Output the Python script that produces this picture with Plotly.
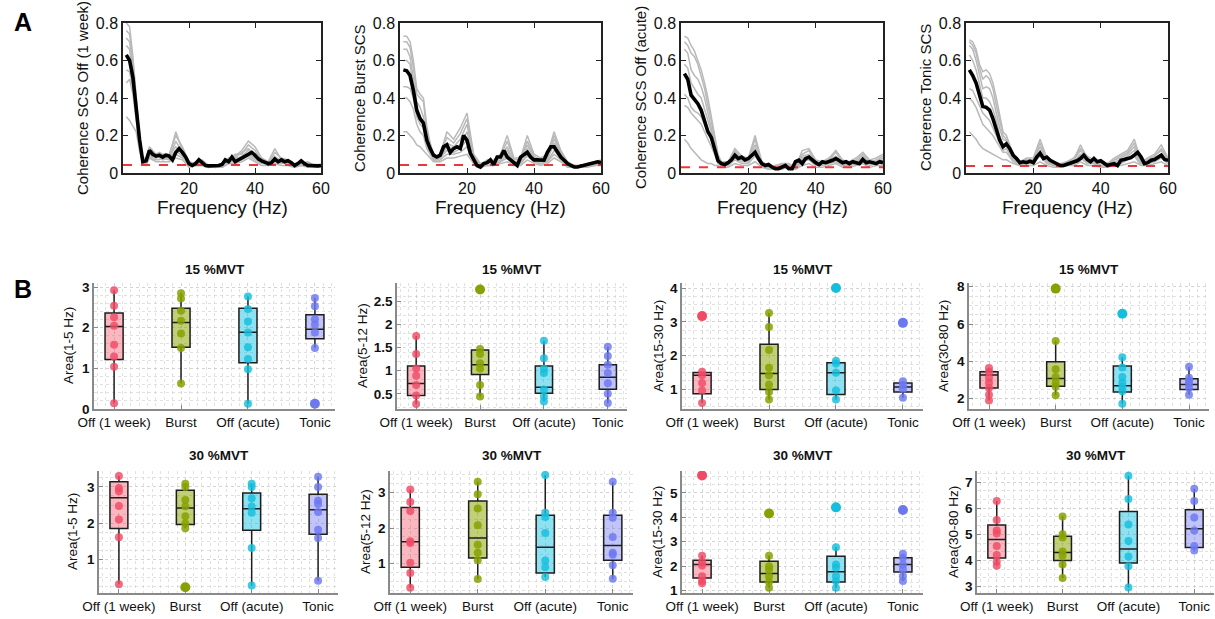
import plotly.graph_objects as go

W, H = 1215, 619
FONT = "Liberation Sans, Arial, Helvetica, sans-serif"

# ======================= Panel A data (coherence spectra) =======================
freq_hz = list(range(1, 61))
gray_freq_hz = [1, 2, 3, 4, 5, 6, 7, 8, 9, 10, 11, 12, 14, 16, 18, 20, 22, 24, 26, 28,
                30, 32, 34, 36, 38, 40, 42, 44, 46, 48, 50, 52, 54, 56, 58, 60]
freq_range = [0, 60]
coh_ylabels = ["Coherence SCS Off (1 week)", "Coherence Burst SCS",
               "Coherence SCS Off (acute)", "Coherence Tonic SCS"]
coh_threshold = [0.042, 0.042, 0.030, 0.037]

coh_mean_off1w = [0.63, 0.60, 0.51, 0.34, 0.18, 0.06, 0.065, 0.12, 0.10, 0.09,
                  0.095, 0.085, 0.095, 0.09, 0.07, 0.11, 0.13, 0.11, 0.085, 0.05,
                  0.04, 0.05, 0.07, 0.055, 0.04, 0.038, 0.038, 0.038, 0.04, 0.045,
                  0.07, 0.06, 0.085, 0.06, 0.07, 0.08, 0.095, 0.105, 0.11, 0.095,
                  0.075, 0.065, 0.055, 0.05, 0.055, 0.075, 0.06, 0.07, 0.06, 0.065,
                  0.055, 0.04, 0.05, 0.065, 0.05, 0.04, 0.04, 0.038, 0.038, 0.04]
coh_mean_burst = [0.55, 0.545, 0.52, 0.44, 0.335, 0.29, 0.265, 0.175, 0.13, 0.095,
                  0.085, 0.095, 0.14, 0.15, 0.11, 0.13, 0.14, 0.13, 0.20, 0.175,
                  0.105, 0.07, 0.04, 0.032, 0.05, 0.055, 0.07, 0.045, 0.085, 0.085,
                  0.12, 0.085, 0.07, 0.05, 0.04, 0.085, 0.095, 0.11, 0.085, 0.07,
                  0.07, 0.07, 0.068, 0.11, 0.14, 0.14, 0.11, 0.085, 0.068, 0.05,
                  0.04, 0.032, 0.032, 0.036, 0.04, 0.045, 0.05, 0.055, 0.06, 0.055]
coh_mean_offacute = [0.53, 0.50, 0.415, 0.39, 0.37, 0.335, 0.28, 0.22, 0.19, 0.12,
                     0.065, 0.05, 0.045, 0.055, 0.07, 0.095, 0.077, 0.085, 0.07, 0.077,
                     0.095, 0.11, 0.077, 0.05, 0.04, 0.045, 0.032, 0.023, 0.023, 0.032,
                     0.04, 0.023, 0.023, 0.06, 0.068, 0.05, 0.077, 0.085, 0.068, 0.055,
                     0.045, 0.06, 0.055, 0.06, 0.068, 0.077, 0.068, 0.055, 0.06, 0.05,
                     0.06, 0.055, 0.05, 0.072, 0.055, 0.06, 0.055, 0.05, 0.06, 0.055]
coh_mean_tonic = [0.55, 0.52, 0.48, 0.41, 0.355, 0.35, 0.335, 0.29, 0.23, 0.175,
                  0.14, 0.155, 0.13, 0.095, 0.077, 0.055, 0.06, 0.055, 0.063, 0.055,
                  0.085, 0.105, 0.077, 0.085, 0.068, 0.06, 0.05, 0.04, 0.04, 0.045,
                  0.05, 0.06, 0.065, 0.077, 0.095, 0.072, 0.06, 0.077, 0.06, 0.065,
                  0.05, 0.04, 0.045, 0.05, 0.04, 0.068, 0.072, 0.077, 0.082, 0.095,
                  0.11, 0.085, 0.05, 0.055, 0.068, 0.072, 0.085, 0.095, 0.072, 0.068]

coh_gray_off1w = [
    [0.80, 0.78, 0.62, 0.40, 0.20, 0.08, 0.08, 0.14, 0.12, 0.10, 0.11, 0.10, 0.10, 0.20, 0.14, 0.06, 0.05, 0.06, 0.04, 0.04, 0.05, 0.08, 0.09, 0.12, 0.17, 0.14, 0.08, 0.06, 0.13, 0.07, 0.06, 0.05, 0.06, 0.05, 0.04, 0.04],
    [0.76, 0.74, 0.60, 0.38, 0.18, 0.07, 0.06, 0.12, 0.10, 0.09, 0.10, 0.09, 0.09, 0.22, 0.12, 0.05, 0.05, 0.06, 0.04, 0.04, 0.04, 0.07, 0.10, 0.10, 0.15, 0.12, 0.07, 0.05, 0.11, 0.08, 0.07, 0.04, 0.05, 0.06, 0.04, 0.04],
    [0.72, 0.70, 0.55, 0.35, 0.17, 0.06, 0.07, 0.13, 0.11, 0.08, 0.09, 0.09, 0.08, 0.17, 0.11, 0.04, 0.06, 0.05, 0.03, 0.04, 0.05, 0.06, 0.08, 0.11, 0.13, 0.10, 0.06, 0.06, 0.09, 0.06, 0.07, 0.05, 0.04, 0.05, 0.04, 0.03],
    [0.68, 0.66, 0.52, 0.33, 0.16, 0.07, 0.06, 0.11, 0.09, 0.10, 0.08, 0.08, 0.09, 0.14, 0.10, 0.05, 0.04, 0.07, 0.04, 0.03, 0.04, 0.07, 0.07, 0.09, 0.12, 0.09, 0.07, 0.05, 0.08, 0.07, 0.05, 0.04, 0.06, 0.04, 0.04, 0.04],
    [0.55, 0.54, 0.45, 0.30, 0.15, 0.06, 0.05, 0.10, 0.08, 0.08, 0.09, 0.07, 0.08, 0.12, 0.09, 0.04, 0.05, 0.05, 0.03, 0.04, 0.03, 0.05, 0.08, 0.08, 0.10, 0.08, 0.06, 0.04, 0.07, 0.05, 0.06, 0.04, 0.05, 0.04, 0.03, 0.04],
    [0.48, 0.50, 0.42, 0.28, 0.14, 0.05, 0.05, 0.09, 0.07, 0.07, 0.07, 0.08, 0.07, 0.10, 0.08, 0.05, 0.04, 0.04, 0.04, 0.03, 0.04, 0.06, 0.06, 0.07, 0.09, 0.07, 0.05, 0.05, 0.06, 0.06, 0.05, 0.04, 0.04, 0.05, 0.04, 0.03],
    [0.30, 0.28, 0.25, 0.22, 0.12, 0.05, 0.04, 0.08, 0.07, 0.06, 0.06, 0.06, 0.06, 0.08, 0.07, 0.03, 0.04, 0.04, 0.03, 0.03, 0.03, 0.05, 0.05, 0.06, 0.08, 0.06, 0.04, 0.04, 0.05, 0.04, 0.04, 0.03, 0.04, 0.03, 0.03, 0.03],
]
coh_gray_burst = [
    [0.73, 0.73, 0.70, 0.60, 0.45, 0.42, 0.40, 0.25, 0.16, 0.10, 0.09, 0.10, 0.22, 0.18, 0.24, 0.32, 0.10, 0.05, 0.06, 0.07, 0.10, 0.20, 0.08, 0.08, 0.20, 0.10, 0.08, 0.10, 0.22, 0.12, 0.06, 0.04, 0.04, 0.05, 0.06, 0.07],
    [0.70, 0.70, 0.67, 0.56, 0.42, 0.40, 0.38, 0.22, 0.15, 0.09, 0.08, 0.10, 0.19, 0.16, 0.21, 0.29, 0.09, 0.04, 0.07, 0.06, 0.09, 0.17, 0.07, 0.07, 0.17, 0.09, 0.07, 0.09, 0.20, 0.11, 0.05, 0.04, 0.04, 0.05, 0.05, 0.06],
    [0.66, 0.66, 0.62, 0.50, 0.38, 0.35, 0.30, 0.20, 0.13, 0.08, 0.08, 0.09, 0.16, 0.14, 0.18, 0.26, 0.08, 0.05, 0.06, 0.06, 0.08, 0.14, 0.06, 0.06, 0.15, 0.08, 0.06, 0.08, 0.18, 0.10, 0.05, 0.03, 0.04, 0.04, 0.05, 0.06],
    [0.60, 0.60, 0.58, 0.46, 0.34, 0.30, 0.27, 0.18, 0.12, 0.08, 0.07, 0.08, 0.14, 0.13, 0.15, 0.22, 0.07, 0.04, 0.05, 0.05, 0.07, 0.12, 0.05, 0.06, 0.13, 0.07, 0.06, 0.07, 0.16, 0.09, 0.04, 0.03, 0.04, 0.04, 0.05, 0.06],
    [0.46, 0.46, 0.45, 0.40, 0.30, 0.26, 0.24, 0.15, 0.11, 0.07, 0.07, 0.08, 0.12, 0.11, 0.13, 0.18, 0.07, 0.04, 0.05, 0.05, 0.06, 0.10, 0.05, 0.05, 0.10, 0.06, 0.05, 0.06, 0.12, 0.08, 0.04, 0.03, 0.03, 0.04, 0.04, 0.05],
    [0.40, 0.40, 0.38, 0.34, 0.26, 0.22, 0.20, 0.13, 0.10, 0.07, 0.06, 0.07, 0.10, 0.10, 0.11, 0.14, 0.06, 0.04, 0.04, 0.04, 0.06, 0.08, 0.04, 0.05, 0.09, 0.06, 0.05, 0.06, 0.10, 0.07, 0.04, 0.03, 0.03, 0.04, 0.04, 0.05],
    [0.22, 0.22, 0.20, 0.18, 0.15, 0.14, 0.12, 0.10, 0.08, 0.06, 0.06, 0.06, 0.08, 0.08, 0.09, 0.10, 0.05, 0.03, 0.04, 0.04, 0.05, 0.06, 0.04, 0.04, 0.07, 0.05, 0.04, 0.05, 0.08, 0.06, 0.03, 0.03, 0.03, 0.03, 0.04, 0.04],
]
coh_gray_offacute = [
    [0.73, 0.72, 0.68, 0.65, 0.60, 0.55, 0.48, 0.40, 0.30, 0.20, 0.10, 0.06, 0.06, 0.13, 0.09, 0.08, 0.20, 0.06, 0.04, 0.04, 0.05, 0.05, 0.03, 0.12, 0.13, 0.07, 0.06, 0.08, 0.12, 0.07, 0.06, 0.08, 0.11, 0.07, 0.08, 0.10],
    [0.70, 0.68, 0.64, 0.62, 0.58, 0.52, 0.45, 0.36, 0.28, 0.18, 0.09, 0.05, 0.05, 0.12, 0.08, 0.07, 0.18, 0.05, 0.04, 0.03, 0.05, 0.04, 0.03, 0.10, 0.12, 0.06, 0.05, 0.07, 0.11, 0.06, 0.06, 0.07, 0.10, 0.06, 0.07, 0.09],
    [0.66, 0.64, 0.55, 0.52, 0.50, 0.46, 0.40, 0.32, 0.25, 0.16, 0.08, 0.05, 0.05, 0.11, 0.08, 0.07, 0.15, 0.05, 0.03, 0.03, 0.04, 0.04, 0.03, 0.09, 0.10, 0.06, 0.05, 0.07, 0.09, 0.06, 0.05, 0.06, 0.09, 0.06, 0.06, 0.08],
    [0.58, 0.56, 0.48, 0.45, 0.42, 0.40, 0.34, 0.28, 0.22, 0.14, 0.07, 0.05, 0.04, 0.10, 0.07, 0.06, 0.13, 0.04, 0.03, 0.03, 0.04, 0.04, 0.02, 0.08, 0.09, 0.05, 0.05, 0.06, 0.08, 0.05, 0.05, 0.06, 0.08, 0.05, 0.06, 0.07],
    [0.42, 0.40, 0.35, 0.33, 0.32, 0.30, 0.26, 0.22, 0.17, 0.12, 0.06, 0.04, 0.04, 0.08, 0.06, 0.06, 0.11, 0.04, 0.03, 0.02, 0.03, 0.03, 0.02, 0.07, 0.08, 0.05, 0.04, 0.05, 0.07, 0.05, 0.04, 0.05, 0.07, 0.05, 0.05, 0.06],
    [0.36, 0.35, 0.32, 0.30, 0.28, 0.26, 0.22, 0.18, 0.14, 0.10, 0.05, 0.04, 0.04, 0.07, 0.05, 0.05, 0.09, 0.04, 0.02, 0.02, 0.03, 0.03, 0.02, 0.06, 0.07, 0.04, 0.04, 0.05, 0.06, 0.04, 0.04, 0.05, 0.06, 0.04, 0.05, 0.05],
    [0.18, 0.16, 0.13, 0.11, 0.09, 0.07, 0.06, 0.05, 0.05, 0.04, 0.04, 0.03, 0.03, 0.05, 0.04, 0.04, 0.06, 0.03, 0.02, 0.02, 0.02, 0.03, 0.02, 0.04, 0.05, 0.03, 0.03, 0.04, 0.05, 0.03, 0.03, 0.04, 0.05, 0.03, 0.04, 0.04],
]
coh_gray_tonic = [
    [0.71, 0.70, 0.66, 0.58, 0.54, 0.55, 0.53, 0.48, 0.40, 0.30, 0.22, 0.20, 0.10, 0.06, 0.08, 0.08, 0.18, 0.08, 0.05, 0.05, 0.06, 0.08, 0.13, 0.09, 0.07, 0.05, 0.05, 0.08, 0.10, 0.12, 0.18, 0.06, 0.08, 0.10, 0.15, 0.08],
    [0.70, 0.68, 0.64, 0.56, 0.50, 0.52, 0.50, 0.45, 0.36, 0.27, 0.20, 0.18, 0.09, 0.06, 0.07, 0.07, 0.16, 0.07, 0.05, 0.04, 0.06, 0.07, 0.15, 0.08, 0.06, 0.05, 0.05, 0.07, 0.09, 0.11, 0.16, 0.06, 0.07, 0.09, 0.13, 0.08],
    [0.68, 0.66, 0.60, 0.52, 0.45, 0.46, 0.45, 0.40, 0.32, 0.24, 0.18, 0.17, 0.08, 0.05, 0.07, 0.07, 0.14, 0.07, 0.04, 0.04, 0.05, 0.07, 0.12, 0.07, 0.06, 0.04, 0.04, 0.07, 0.08, 0.10, 0.14, 0.05, 0.07, 0.09, 0.12, 0.07],
    [0.63, 0.60, 0.55, 0.48, 0.40, 0.40, 0.38, 0.34, 0.28, 0.20, 0.15, 0.16, 0.08, 0.05, 0.06, 0.06, 0.12, 0.06, 0.04, 0.04, 0.05, 0.06, 0.10, 0.07, 0.05, 0.04, 0.04, 0.06, 0.07, 0.09, 0.12, 0.05, 0.06, 0.08, 0.10, 0.07],
    [0.45, 0.44, 0.40, 0.36, 0.32, 0.30, 0.28, 0.24, 0.20, 0.16, 0.12, 0.13, 0.07, 0.05, 0.06, 0.06, 0.10, 0.06, 0.04, 0.04, 0.05, 0.05, 0.09, 0.06, 0.05, 0.04, 0.04, 0.05, 0.06, 0.08, 0.10, 0.05, 0.05, 0.07, 0.09, 0.06],
    [0.40, 0.38, 0.35, 0.30, 0.26, 0.24, 0.22, 0.20, 0.17, 0.14, 0.11, 0.11, 0.06, 0.04, 0.05, 0.05, 0.09, 0.05, 0.04, 0.03, 0.04, 0.05, 0.08, 0.05, 0.05, 0.04, 0.03, 0.05, 0.05, 0.07, 0.09, 0.04, 0.05, 0.06, 0.08, 0.05],
    [0.22, 0.20, 0.18, 0.15, 0.13, 0.12, 0.11, 0.10, 0.09, 0.08, 0.07, 0.07, 0.05, 0.04, 0.04, 0.04, 0.06, 0.04, 0.03, 0.03, 0.04, 0.04, 0.06, 0.04, 0.04, 0.03, 0.03, 0.04, 0.04, 0.05, 0.06, 0.04, 0.04, 0.05, 0.06, 0.04],
]

# ======================= Panel B data (areas) =======================
groups = ["Off (1 week)", "Burst", "Off (acute)", "Tonic"]
band_labels = ["Area(1-5 Hz)", "Area(5-12 Hz)", "Area(15-30 Hz)", "Area(30-80 Hz)"]
mvt_titles = ["15 %MVT", "30 %MVT"]

# points (non-outliers) per group
pts_15_b1 = [[2.92, 2.54, 2.26, 2.05, 1.58, 1.29, 1.04, 0.14], [2.85, 2.72, 2.42, 2.17, 1.86, 1.50, 0.63],
             [2.77, 2.46, 2.15, 1.88, 1.52, 1.23, 0.98, 0.13], [2.73, 2.53, 2.21, 2.08, 1.88, 1.50]]
pts_15_b2 = [[1.75, 1.36, 1.05, 0.89, 0.69, 0.46, 0.28], [1.47, 1.36, 1.16, 1.05, 0.69, 0.44],
             [1.65, 1.27, 1.04, 0.95, 0.59, 0.44, 0.33], [1.52, 1.32, 1.13, 0.95, 0.73, 0.50, 0.30]]
pts_15_b3 = [[1.52, 1.42, 1.19, 0.97, 0.60], [3.26, 2.85, 2.17, 1.64, 1.42, 1.14, 0.92, 0.70],
             [1.85, 1.77, 1.49, 0.97, 0.70], [1.24, 1.12, 1.02, 0.75]]
pts_15_b4 = [[3.64, 3.45, 3.13, 2.85, 2.58, 2.22, 1.91], [5.09, 3.58, 3.16, 2.85, 2.64, 2.18],
             [4.22, 3.67, 3.16, 2.85, 2.64, 2.40, 1.73], [3.71, 3.13, 2.95, 2.80, 2.58, 2.22]]
pts_30_b1 = [[3.30, 2.97, 2.88, 2.47, 2.10, 1.61, 0.31], [3.09, 3.00, 2.64, 2.46, 2.19, 1.99, 1.86],
             [3.09, 3.00, 2.69, 2.46, 2.29, 1.31, 0.28], [3.28, 3.00, 2.62, 2.53, 2.31, 1.82, 1.59, 0.41]]
pts_30_b2 = [[3.08, 2.73, 2.48, 1.63, 1.58, 1.03, 0.74, 0.33], [3.30, 2.95, 2.55, 2.08, 1.53, 1.31, 1.10, 0.57],
             [3.49, 2.43, 2.31, 1.86, 1.09, 0.90, 0.63], [3.30, 2.43, 2.29, 1.75, 1.31, 1.25, 0.96, 0.58]]
pts_30_b3 = [[2.43, 2.16, 2.03, 1.59, 1.39, 1.30], [2.43, 2.00, 1.86, 1.59, 1.35, 1.12],
             [2.78, 2.07, 1.93, 1.59, 1.39, 1.12], [2.51, 2.34, 2.07, 1.86, 1.59, 1.39]]
pts_30_b4 = [[6.28, 5.55, 5.15, 5.03, 4.55, 4.21, 3.96, 3.80], [5.68, 5.00, 4.88, 4.34, 4.18, 3.84, 3.33],
             [7.25, 6.36, 5.38, 4.74, 4.15, 3.78, 2.96], [6.75, 6.28, 5.65, 5.15, 4.55, 4.38]]

# outliers per group
out_15_b1 = [[], [], [], [0.13]]
out_15_b2 = [[], [2.76], [], []]
out_15_b3 = [[3.17], [], [4.00], [2.97]]
out_15_b4 = [[], [7.90], [6.55], []]
out_30_b1 = [[], [0.23], [], []]
out_30_b2 = [[], [], [], []]
out_30_b3 = [[5.72], [4.16], [4.41], [4.30]]
out_30_b4 = [[], [], [], []]

# box statistics per group: [q1, median, q3, lower whisker, upper whisker]
box_15_b1 = [[1.22, 2.03, 2.36, 0.14, 2.92], [1.52, 2.13, 2.48, 0.63, 2.85],
             [1.14, 1.89, 2.48, 0.13, 2.77], [1.73, 1.96, 2.32, 1.50, 2.73]]
box_15_b2 = [[0.46, 0.72, 1.10, 0.28, 1.75], [0.92, 1.13, 1.45, 0.44, 1.47],
             [0.51, 0.64, 1.10, 0.33, 1.65], [0.60, 0.86, 1.13, 0.30, 1.52]]
box_15_b3 = [[0.87, 1.42, 1.50, 0.60, 1.52], [1.00, 1.47, 2.34, 0.70, 3.26],
             [0.85, 1.49, 1.79, 0.70, 1.85], [0.92, 1.07, 1.19, 0.75, 1.24]]
box_15_b4 = [[2.58, 3.27, 3.45, 1.91, 3.64], [2.67, 3.09, 3.98, 2.18, 5.09],
             [2.36, 2.69, 3.75, 1.73, 4.22], [2.49, 2.76, 3.07, 2.22, 3.71]]
box_30_b1 = [[1.85, 2.70, 3.14, 0.31, 3.30], [1.96, 2.42, 2.91, 1.86, 3.09],
             [1.80, 2.40, 2.83, 0.28, 3.09], [1.69, 2.37, 2.80, 0.41, 3.28]]
box_30_b2 = [[0.90, 1.62, 2.58, 0.33, 3.08], [1.16, 1.72, 2.76, 0.57, 3.30],
             [0.74, 1.46, 2.36, 0.63, 3.49], [1.10, 1.51, 2.36, 0.58, 3.30]]
box_30_b3 = [[1.51, 2.07, 2.24, 1.30, 2.43], [1.35, 1.70, 2.20, 1.12, 2.43],
             [1.35, 1.77, 2.41, 1.12, 2.78], [1.76, 2.07, 2.34, 1.39, 2.51]]
box_30_b4 = [[4.09, 4.80, 5.36, 3.80, 6.28], [4.00, 4.30, 4.93, 3.33, 5.68],
             [3.90, 4.44, 5.88, 2.96, 7.25], [4.50, 5.21, 5.94, 4.38, 6.75]]

# ======================= styling / layout config =======================
pt_colors = ["rgba(240,75,100,0.82)", "rgba(135,162,0,0.85)", "rgba(20,190,220,0.82)", "rgba(108,120,240,0.82)"]
out_colors = ["rgb(240,75,100)", "rgb(135,162,0)", "rgb(20,190,220)", "rgb(108,120,240)"]
fill_colors = ["rgba(245,95,115,0.45)", "rgba(140,168,10,0.55)", "rgba(30,195,225,0.50)", "rgba(115,125,240,0.45)"]

A_x = [(123, 321), (400, 601), (681, 883), (966, 1168)]
A_y = (23, 173)
B_x = [[(94, 335), (397, 627), (682, 923), (969, 1209)],
       [(99, 338), (390, 633), (682, 923), (977, 1214)]]
B_y = [(283, 409), (471, 593)]
B_title_y = [270, 455]
B_yranges = [[[0, 3.1], [0.17, 2.9], [0.42, 4.15], [1.45, 8.2]],
             [[0.07, 3.44], [0.18, 3.6], [0.9, 5.9], [2.75, 7.43]]]
B_yticks = [[[0, 1, 2, 3], [0.5, 1, 1.5, 2, 2.5], [1, 2, 3, 4], [2, 4, 6, 8]],
            [[1, 2, 3], [1, 2, 3], [1, 2, 3, 4, 5], [3, 4, 5, 6, 7]]]
B_yminor = [[0.2, 0.2, 0.25, 0.5], [0.25, 0.25, 1 / 3, 1 / 3]]
B_ytitle_off = [[26, 35, 24, 26], [27, 25, 25, 24]]

coh_means = [coh_mean_off1w, coh_mean_burst, coh_mean_offacute, coh_mean_tonic]
coh_grays = [coh_gray_off1w, coh_gray_burst, coh_gray_offacute, coh_gray_tonic]
for m in coh_means:
    assert len(m) == len(freq_hz)
for gl in coh_grays:
    for g in gl:
        assert len(g) == len(gray_freq_hz), len(g)

B_points = [[pts_15_b1, pts_15_b2, pts_15_b3, pts_15_b4], [pts_30_b1, pts_30_b2, pts_30_b3, pts_30_b4]]
B_out = [[out_15_b1, out_15_b2, out_15_b3, out_15_b4], [out_30_b1, out_30_b2, out_30_b3, out_30_b4]]
B_box = [[box_15_b1, box_15_b2, box_15_b3, box_15_b4], [box_30_b1, box_30_b2, box_30_b3, box_30_b4]]


def xdom(a, b):
    return [a / W, b / W]


def ydom(top, bottom):
    return [1 - bottom / H, 1 - top / H]


def axname(i):
    return "" if i == 1 else str(i)


fig = go.Figure()
layout = dict(
    width=W, height=H, paper_bgcolor="white", plot_bgcolor="white",
    margin=dict(l=0, r=0, t=0, b=0, autoexpand=False), showlegend=False,
    font=dict(family=FONT, color="#111"),
)
annotations = []

# ---------------- Panel A ----------------
for i in range(4):
    k = i + 1
    xr, yr = "x" + axname(k), "y" + axname(k)
    for g in coh_grays[i]:
        fig.add_trace(go.Scatter(x=gray_freq_hz, y=g, mode="lines", xaxis=xr, yaxis=yr,
                                 line=dict(color="rgb(185,185,185)", width=1.5), hoverinfo="skip"))
    fig.add_trace(go.Scatter(x=freq_range, y=[coh_threshold[i]] * 2, mode="lines", xaxis=xr, yaxis=yr,
                             line=dict(color="rgb(235,55,60)", width=2, dash="dash"), hoverinfo="skip"))
    fig.add_trace(go.Scatter(x=freq_hz, y=coh_means[i], mode="lines", xaxis=xr, yaxis=yr,
                             line=dict(color="black", width=3.6), hoverinfo="skip"))
    x0, x1 = A_x[i]
    layout["xaxis" + axname(k)] = dict(
        domain=xdom(x0, x1), range=freq_range, anchor=yr, tickvals=[20, 40, 60],
        ticks="inside", ticklen=5, tickwidth=1.3, tickcolor="#222", showline=True,
        linecolor="#222", linewidth=1.5, mirror="ticks", showgrid=False, zeroline=False,
        tickfont=dict(size=16, color="#111"))
    layout["yaxis" + axname(k)] = dict(
        domain=ydom(*A_y), range=[0, 0.8], anchor=xr, tickvals=[0, 0.2, 0.4, 0.6, 0.8],
        ticks="inside", ticklen=5, tickwidth=1.3, tickcolor="#222", showline=True,
        linecolor="#222", linewidth=1.5, mirror="ticks", showgrid=False, zeroline=False,
        tickfont=dict(size=16, color="#111"))
    annotations.append(dict(text="Frequency (Hz)", x=(x0 + x1) / 2 / W, y=1 - 207 / H, xref="paper",
                            yref="paper", showarrow=False, font=dict(size=19, color="#111"),
                            xanchor="center", yanchor="middle"))
    annotations.append(dict(text=coh_ylabels[i], x=(x0 - 41) / W, y=1 - (A_y[0] + A_y[1]) / 2 / H,
                            xref="paper", yref="paper", showarrow=False, textangle=-90,
                            font=dict(size=15, color="#111"), xanchor="center", yanchor="middle"))

# ---------------- Panel B ----------------
grid_col = "rgba(200,200,200,0.55)"
k = 4
for r in range(2):
    for c in range(4):
        k += 1
        xr, yr = "x" + axname(k), "y" + axname(k)
        for gi, gname in enumerate(groups):
            pos = gi + 1
            s = B_box[r][c][gi]
            fig.add_trace(go.Box(x=[pos], q1=[s[0]], median=[s[1]], q3=[s[2]], lowerfence=[s[3]],
                                 upperfence=[s[4]], width=0.27, fillcolor=fill_colors[gi],
                                 line=dict(color="rgb(30,30,30)", width=1.5), whiskerwidth=0,
                                 boxpoints=False, xaxis=xr, yaxis=yr, hoverinfo="skip", name=gname))
        for gi, gname in enumerate(groups):
            pos = gi + 1
            p = B_points[r][c][gi]
            fig.add_trace(go.Scatter(x=[pos] * len(p), y=p, mode="markers", xaxis=xr, yaxis=yr,
                                     marker=dict(size=8, color=pt_colors[gi], line=dict(width=0)),
                                     hoverinfo="skip", name=gname))
            o = B_out[r][c][gi]
            if o:
                fig.add_trace(go.Scatter(x=[pos] * len(o), y=o, mode="markers", xaxis=xr, yaxis=yr,
                                         marker=dict(size=10, color=out_colors[gi], line=dict(width=0)),
                                         hoverinfo="skip", name=gname))
        x0, x1 = B_x[r][c]
        y0, y1 = B_y[r]
        layout["xaxis" + axname(k)] = dict(
            domain=xdom(x0, x1), range=[0.7, 4.3], anchor=yr, tickvals=[1, 2, 3, 4], ticktext=groups,
            ticks="inside", ticklen=4, tickwidth=1.2, tickcolor="#888", showline=True,
            linecolor="#8a8a8a", linewidth=1.5, zeroline=False,
            showgrid=True, griddash="dot", gridcolor=grid_col, gridwidth=1,
            minor=dict(dtick=0.125, tick0=1, showgrid=True, griddash="dot", gridcolor=grid_col, gridwidth=1),
            tickfont=dict(size=13.5, color="#111"))
        layout["yaxis" + axname(k)] = dict(
            domain=ydom(y0, y1), range=B_yranges[r][c], anchor=xr, tickvals=B_yticks[r][c],
            ticks="inside", ticklen=4, tickwidth=1.2, tickcolor="#888", showline=True,
            linecolor="#8a8a8a", linewidth=1.5, zeroline=False,
            showgrid=True, griddash="dot", gridcolor=grid_col, gridwidth=1,
            minor=dict(dtick=B_yminor[r][c], tick0=0, showgrid=True, griddash="dot", gridcolor=grid_col, gridwidth=1),
            tickfont=dict(size=13.5, color="#111", weight="bold"))
        annotations.append(dict(text="<b>" + mvt_titles[r] + "</b>", x=(x0 + x1) / 2 / W,
                                y=1 - B_title_y[r] / H, xref="paper", yref="paper", showarrow=False,
                                font=dict(size=13.5, color="#111"), xanchor="center", yanchor="middle"))
        annotations.append(dict(text=band_labels[c], x=(x0 - B_ytitle_off[r][c]) / W,
                                y=1 - (y0 + y1) / 2 / H, xref="paper", yref="paper", showarrow=False,
                                textangle=-90, font=dict(size=13.5, color="#111"),
                                xanchor="center", yanchor="middle"))

annotations.append(dict(text="<b>A</b>", x=12 / W, y=1 - 22 / H, xref="paper", yref="paper",
                        showarrow=False, font=dict(size=25, color="black"), xanchor="left", yanchor="middle"))
annotations.append(dict(text="<b>B</b>", x=12 / W, y=1 - 289 / H, xref="paper", yref="paper",
                        showarrow=False, font=dict(size=25, color="black"), xanchor="left", yanchor="middle"))
layout["annotations"] = annotations
layout["boxmode"] = "overlay"
fig.update_layout(**layout)
fig.write_html("out.html", config={"displayModeBar": False},
               post_script="document.body.style.margin='0';document.body.style.padding='0';"
                           "document.documentElement.style.overflow='hidden';")
